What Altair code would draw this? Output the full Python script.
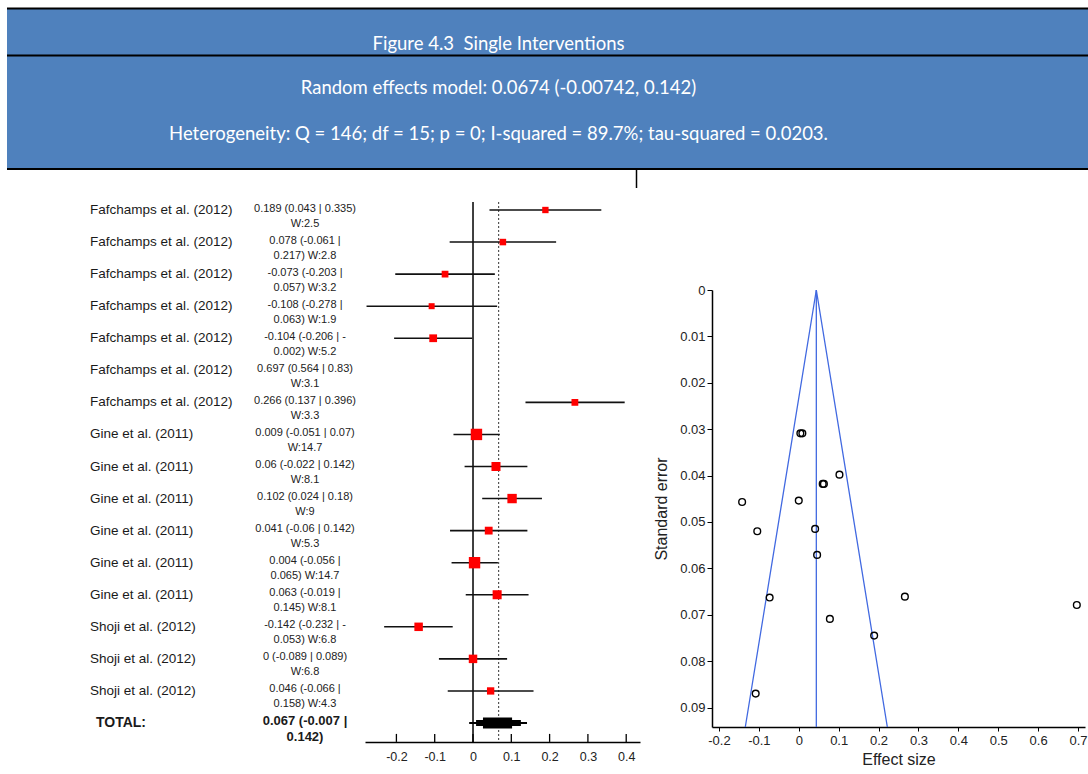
import altair as alt
import pandas as pd

# ---------------- data ----------------
header_lines = [
    "Figure 4.3\u00a0 Single Interventions",
    "Random effects model: 0.0674 (-0.00742, 0.142)",
    "Heterogeneity: Q = 146; df = 15; p = 0; I-squared = 89.7%; tau-squared = 0.0203.",
]

studies = ["Fafchamps et al. (2012)"] * 7 + ["Gine et al. (2011)"] * 6 + ["Shoji et al. (2012)"] * 3
est = [0.189, 0.078, -0.073, -0.108, -0.104, 0.697, 0.266, 0.009, 0.06, 0.102, 0.041, 0.004, 0.063, -0.142, 0.0, 0.046]
ci_lo = [0.043, -0.061, -0.203, -0.278, -0.206, 0.564, 0.137, -0.051, -0.022, 0.024, -0.06, -0.056, -0.019, -0.232, -0.089, -0.066]
ci_hi = [0.335, 0.217, 0.057, 0.063, -0.002, 0.83, 0.396, 0.07, 0.142, 0.18, 0.142, 0.065, 0.145, -0.053, 0.089, 0.158]
weight = [2.5, 2.8, 3.2, 1.9, 5.2, 3.1, 3.3, 14.7, 8.1, 9, 5.3, 14.7, 8.1, 6.8, 6.8, 4.3]
stat_line1 = ["0.189 (0.043 | 0.335)", "0.078 (-0.061 |", "-0.073 (-0.203 |", "-0.108 (-0.278 |",
              "-0.104 (-0.206 | -", "0.697 (0.564 | 0.83)", "0.266 (0.137 | 0.396)", "0.009 (-0.051 | 0.07)",
              "0.06 (-0.022 | 0.142)", "0.102 (0.024 | 0.18)", "0.041 (-0.06 | 0.142)", "0.004 (-0.056 |",
              "0.063 (-0.019 |", "-0.142 (-0.232 | -", "0 (-0.089 | 0.089)", "0.046 (-0.066 |"]
stat_line2 = ["W:2.5", "0.217) W:2.8", "0.057) W:3.2", "0.063) W:1.9", "0.002) W:5.2", "W:3.1", "W:3.3",
              "W:14.7", "W:8.1", "W:9", "W:5.3", "0.065) W:14.7", "0.145) W:8.1", "0.053) W:6.8", "W:6.8",
              "0.158) W:4.3"]

total_label = "TOTAL:"
total_est = 0.067
total_text = ["0.067 (-0.007 |", "0.142)"]
diamond_lo = [-0.010, 0.008, 0.026]
diamond_hi = [0.141, 0.125, 0.102]
diamond_thick = [2, 6, 11]

forest_ticks = [-0.2, -0.1, 0, 0.1, 0.2, 0.3, 0.4]

# funnel plot
std_err = [0.0745, 0.0709, 0.0663, 0.0870, 0.0520, 0.0679, 0.0661, 0.0309, 0.0418, 0.0398,
           0.0515, 0.0309, 0.0418, 0.0457, 0.0454, 0.0571]
funnel_center = 0.044
funnel_edge_x = [-0.134, 0.044, 0.222]
funnel_edge_se = [0.0942, 0.0, 0.0942]
funnel_x_ticks = [-0.2, -0.1, 0, 0.1, 0.2, 0.3, 0.4, 0.5, 0.6, 0.7]
funnel_y_ticks = [0, 0.01, 0.02, 0.03, 0.04, 0.05, 0.06, 0.07, 0.08, 0.09]

# ---------------- tables ----------------
n = len(studies)
forest_df = pd.DataFrame({
    "row": list(range(n)),
    "study": studies,
    "est": est,
    "lo": ci_lo,
    "hi": ci_hi,
    "w": weight,
    "stat": [a + "\n" + b for a, b in zip(stat_line1, stat_line2)],
})
total_row = n
diamond_df = pd.DataFrame({"lo": diamond_lo, "hi": diamond_hi, "thick": diamond_thick})
vline_df = pd.DataFrame({"x": [0.0]})
est_line_df = pd.DataFrame({"x": [total_est]})
ftick_df = pd.DataFrame({"t": forest_ticks})
funnel_pts = pd.DataFrame({"es": est, "se": std_err})
funnel_edge = pd.DataFrame({"x": funnel_edge_x, "se": funnel_edge_se, "i": [0, 1, 2]})
funnel_mid = pd.DataFrame({"x": [funnel_center], "s0": [0.0], "s1": [0.0942]})

FONT = "Liberation Sans"
F_DOM = [-0.282, 0.436]
ROW_TOP, ROW_BOT = -0.25, 16.59

fxs = alt.Scale(domain=F_DOM, range=[365, 640], nice=False, zero=False)
fys = alt.Scale(domain=[0, 16], range=[210, 723], nice=False, zero=False)
fax = alt.Axis(orient="bottom", offset=-32, values=forest_ticks, grid=False, ticks=False,
               domainColor="#000000", domainWidth=1.5, labelFont=FONT, labelFontSize=12.5,
               labelColor="#222222", labelPadding=8, title=None,
               labelExpr="datum.value == 0 ? '0' : (datum.value < 0 ? '-' : '') + format(abs(datum.value), '.1f')")


def FX(field):
    return alt.X(field, type="quantitative", scale=fxs, axis=fax)


def FY(field):
    return alt.Y(field, type="quantitative", scale=fys, axis=None)


def FYD(v):
    return alt.YDatum(v, type="quantitative", scale=fys, axis=None)


# ---------------- header ----------------
hdr_rect = alt.Chart().mark_rect(color="#4F81BD").encode(
    x=alt.value(7), x2=alt.value(1088), y=alt.value(8), y2=alt.value(169))
hdr_rules = [
    alt.Chart().mark_rule(color="#000000", strokeWidth=2).encode(
        x=alt.value(7), x2=alt.value(1088), y=alt.value(yy))
    for yy in (8.5, 55.5, 169)
]
hdr_tick = alt.Chart().mark_rule(color="#000000", strokeWidth=1.5).encode(
    x=alt.value(636.5), y=alt.value(169), y2=alt.value(188))
hdr_texts = [
    alt.Chart().mark_text(color="#FFFFFF", font="Lato", fontSize=18.5, align="center", baseline="middle").encode(
        x=alt.value(498.5), y=alt.value(yy), text=alt.value(t))
    for t, yy in zip(header_lines, (44, 88, 134))
]
header = alt.layer(hdr_rect, *hdr_rules, hdr_tick, *hdr_texts)

# ---------------- forest plot ----------------
zero_line = alt.Chart(vline_df).mark_rule(color="#000000", strokeWidth=1.5).encode(
    x=FX("x"), y=FYD(ROW_TOP), y2=alt.Y2Datum(ROW_BOT))
est_line = alt.Chart(est_line_df).mark_rule(color="#333333", strokeWidth=1, strokeDash=[2, 2]).encode(
    x=FX("x"), y=FYD(ROW_TOP), y2=alt.Y2Datum(ROW_BOT))
ci = alt.Chart(forest_df).transform_filter(f"datum.lo < {F_DOM[1]}").mark_rule(
    color="#111111", strokeWidth=1.6).encode(x=FX("lo"), x2="hi", y=FY("row"))
squares = alt.Chart(forest_df).transform_filter(f"datum.est < {F_DOM[1]}").mark_square(
    color="#FF0000", opacity=1).encode(
    x=FX("est"), y=FY("row"),
    size=alt.Size("w", type="quantitative", scale=alt.Scale(domain=[1.9, 14.7], range=[36, 130]), legend=None))
diamond = alt.Chart(diamond_df).mark_rule(color="#000000").encode(
    x=FX("lo"), x2="hi", y=FYD(total_row),
    strokeWidth=alt.StrokeWidth("thick", type="quantitative", scale=None))
fticks = alt.Chart(ftick_df).mark_rule(color="#000000", strokeWidth=1.3).encode(
    x=FX("t"), y=FYD(16.34), y2=alt.Y2Datum(ROW_BOT))
names = alt.Chart(forest_df).mark_text(font=FONT, fontSize=13.5, align="left", baseline="middle",
                                       color="#1a1a1a").encode(
    x=alt.value(90), y=FY("row"), text="study")
stats = alt.Chart(forest_df).mark_text(font=FONT, fontSize=11, align="center", baseline="middle",
                                       lineBreak="\n", lineHeight=15, dy=-1.5, color="#222222").encode(
    x=alt.value(305), y=FY("row"), text="stat")
total_name = alt.Chart().mark_text(font=FONT, fontSize=14, fontWeight="bold", align="left",
                                   baseline="middle", color="#1a1a1a").encode(
    x=alt.value(96), y=FYD(total_row), text=alt.value(total_label))
total_stat = alt.Chart().mark_text(font=FONT, fontSize=13, fontWeight="bold", align="center",
                                   baseline="middle", lineBreak="\n", lineHeight=16, dy=-2,
                                   color="#1a1a1a").encode(
    x=alt.value(305), y=FYD(total_row), text=alt.value("\n".join(total_text)))

forest = alt.layer(zero_line, est_line, ci, squares, diamond, fticks, names, stats, total_name, total_stat)

# ---------------- funnel plot ----------------
gxs = alt.Scale(domain=[-0.2175, 0.7175], range=[712, 1085], nice=False, zero=False)
gys = alt.Scale(domain=[0, 0.0942], range=[290, 727], nice=False, zero=False)
gax = alt.Axis(orient="bottom", offset=-47, values=funnel_x_ticks, grid=False, tickSize=4,
               tickColor="#000000", domainColor="#000000", domainWidth=1.5, labelFont=FONT,
               labelFontSize=13, labelColor="#222222", labelPadding=3, title="Effect size",
               titleFont=FONT, titleFontSize=16, titleFontWeight="normal", titleColor="#222222",
               titlePadding=4,
               labelExpr="datum.value == 0 ? '0' : (datum.value < 0 ? '-' : '') + format(abs(datum.value), '.1f')")
gay = alt.Axis(orient="left", offset=-712, values=funnel_y_ticks, grid=False, tickSize=5,
               tickColor="#000000", domainColor="#000000", domainWidth=1.5, labelFont=FONT,
               labelFontSize=13, labelColor="#222222", labelPadding=2, title="Standard error",
               titleFont=FONT, titleFontSize=16, titleFontWeight="normal", titleColor="#222222",
               titlePadding=10,
               labelExpr="datum.value == 0 ? '0' : format(datum.value, '.2f')")


def GX(field):
    return alt.X(field, type="quantitative", scale=gxs, axis=gax)


def GY(field):
    return alt.Y(field, type="quantitative", scale=gys, axis=gay)


f_edges = alt.Chart(funnel_edge).mark_line(color="#4169E1", strokeWidth=1.3).encode(
    x=GX("x"), y=GY("se"), order="i")
f_mid = alt.Chart(funnel_mid).mark_rule(color="#4169E1", strokeWidth=1.3).encode(
    x=GX("x"), y=GY("s0"), y2="s1")
f_pts = alt.Chart(funnel_pts).mark_point(shape="circle", filled=False, color="#000000", size=45,
                                         strokeWidth=1.4, opacity=1).encode(
    x=GX("es"), y=GY("se"))
funnel = alt.layer(f_edges, f_mid, f_pts)

chart = alt.layer(header, forest, funnel).resolve_scale(
    x="independent", y="independent"
).properties(
    width=1088, height=774, padding=0, background="#FFFFFF",
    autosize=alt.AutoSizeParams(type="none"),
).configure_view(stroke=None)

chart.save("out.html", embed_options={"renderer": "svg", "actions": False})
